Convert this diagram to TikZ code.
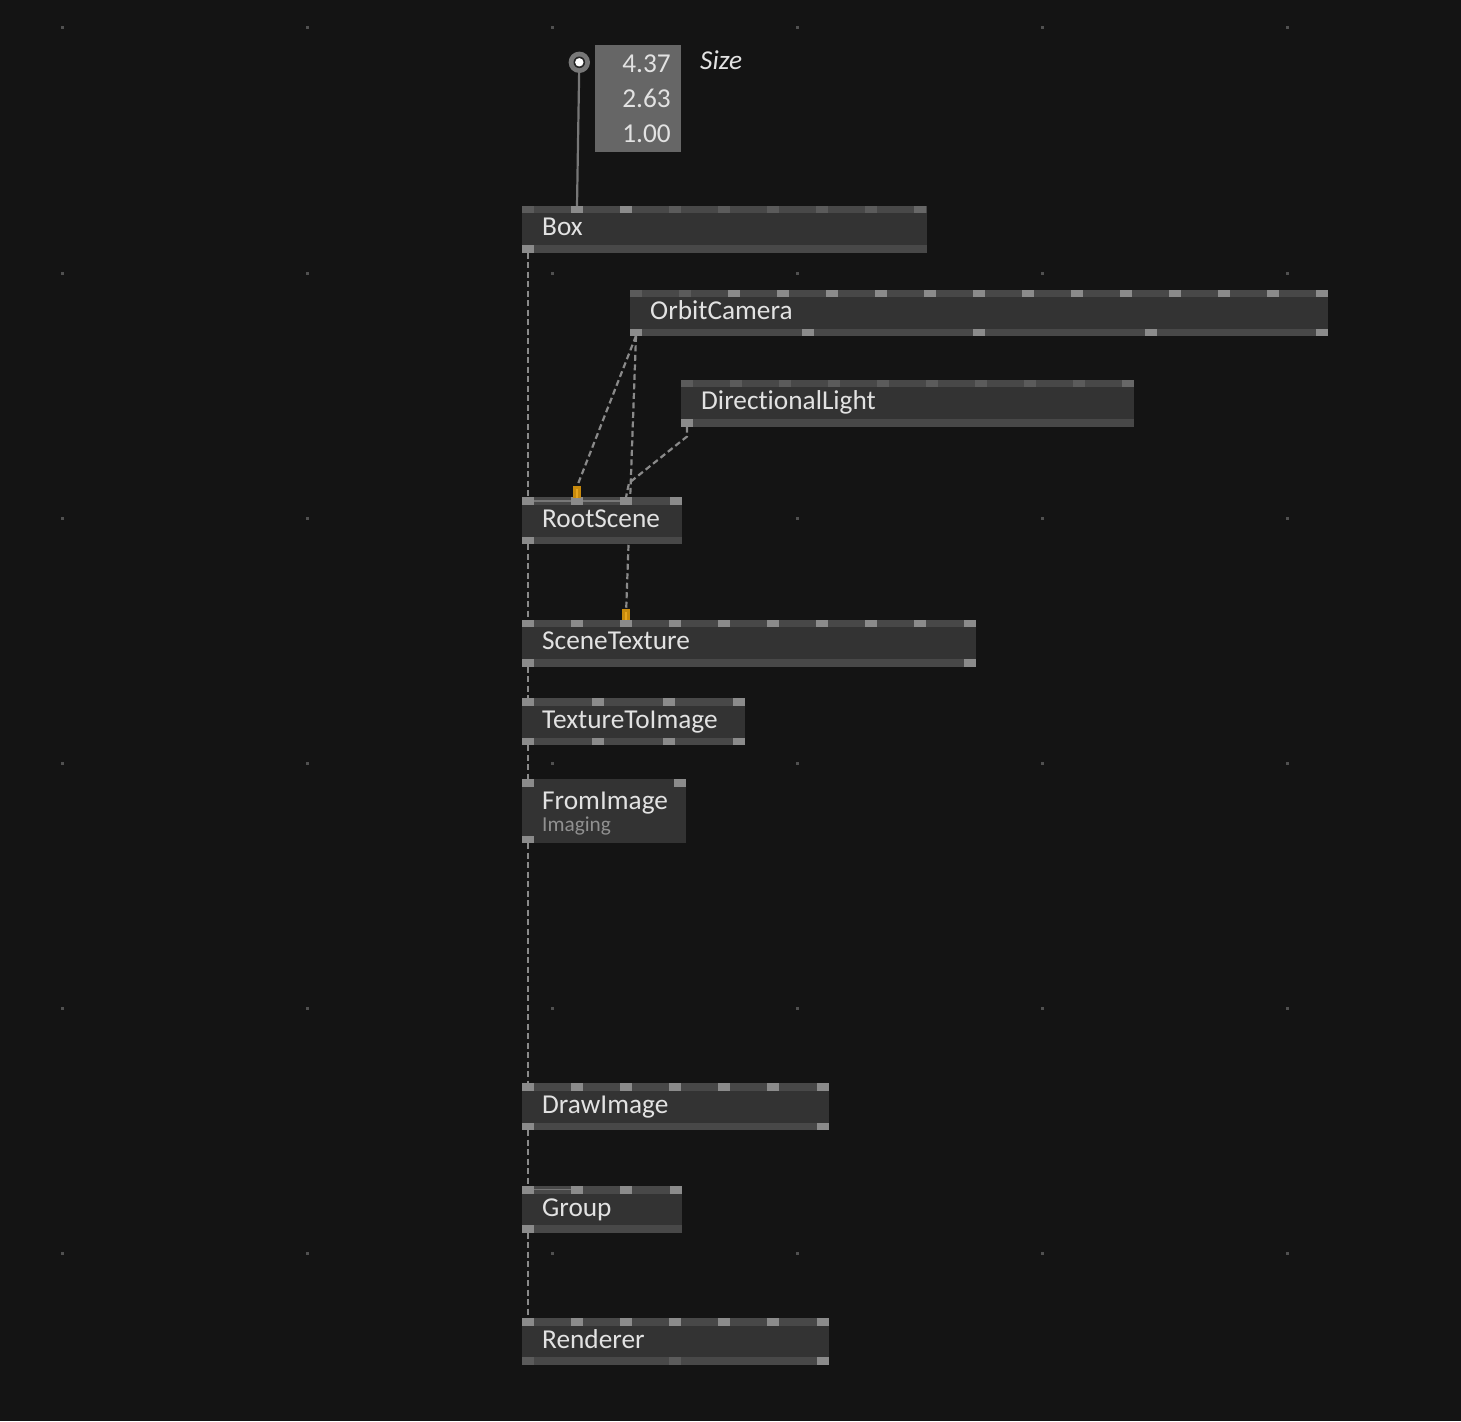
\documentclass[tikz,border=0pt]{standalone}
\usepackage{fontspec}
\setmainfont{Carlito}[Ligatures=NoCommon]
\usetikzlibrary{calc}
\definecolor{bgc}{HTML}{141414}
\definecolor{bodyc}{HTML}{333333}
\definecolor{barc}{HTML}{484848}
\definecolor{pinD}{HTML}{5B5B5B}
\definecolor{pinL}{HTML}{8B8B8B}
\definecolor{pinM}{HTML}{676767}
\definecolor{linkc}{HTML}{8A8A8A}
\definecolor{dotc}{HTML}{505050}
\definecolor{txtc}{HTML}{E2E2E2}
\definecolor{subc}{HTML}{909090}
\definecolor{valc}{HTML}{666666}
\definecolor{orgc}{HTML}{C88A0C}
\definecolor{orgl}{HTML}{E8A51C}
\definecolor{ioc}{HTML}{777777}
\pgfdeclarelayer{back}
\pgfdeclarelayer{links}
\pgfsetlayers{back,links,main}
\tikzset{
  vbody/.style={fill=bodyc, inner sep=0pt, outer sep=0pt, draw=none},
  lbl/.style={text=txtc, inner sep=0pt, font=\fontsize{27.3}{31}\selectfont},
  sublbl/.style={text=subc, inner sep=0pt, font=\fontsize{21.3}{25}\selectfont},
  numlbl/.style={text=txtc, inner sep=0pt, font=\fontsize{27.3}{31}\selectfont},
  vlink/.style={draw=linkc, line width=2.2pt, dash pattern=on 6pt off 3.5pt},
  solidlink/.style={draw=ioc, line width=2.2pt},
  grouplink/.style={draw=ioc, line width=1.6pt},
}
\newcommand\vvbox[6]{%
  \node[vbody, minimum width=#4pt, minimum height=#5pt, anchor=north west] (#1) at (#2,#3) {};
}
\newcommand\vvbars[1]{%
  \fill[barc] (#1.north west) rectangle ($(#1.north east)+(0,7.3)$);
  \fill[barc] (#1.south west) rectangle ($(#1.south east)+(0,-7.3)$);
}
\newcommand\vvlabel[2]{%
  \node[lbl, anchor=base west] (#1-t) at ($(#1.north west)+(20,29.8)$) {#2};
}
\newcommand\toppins[3]{%
  \foreach \pp in {#3} {\fill[#2] ($(#1.north west)+(\pp,0)$) rectangle ++(12,7.3);}
}
\newcommand\botpins[3]{%
  \foreach \pp in {#3} {\fill[#2] ($(#1.south west)+(\pp,-7.3)$) rectangle ++(12,7.3);}
}
\begin{document}
\begin{tikzpicture}[x=1pt,y=-1pt]
\useasboundingbox (0,0) rectangle (1461,1421);
\begin{pgfonlayer}{back}
  \fill[bgc] (0,0) rectangle (1461,1421);
  \foreach \gx in {62,307,552,797,1042,1287} {
    \foreach \gy in {28,273,518,763,1008,1253} {
      \fill[dotc] (\gx-1.5,\gy-1.5) rectangle ++(3,3);
    }
  }
\end{pgfonlayer}

% ---- IOBox with values
\node[fill=valc, minimum width=86pt, minimum height=107pt, inner sep=0pt, anchor=north west] (vals) at (595,45) {};
\node[numlbl, anchor=base east] (v1) at (671,72.8) {4.37};
\node[numlbl, anchor=base east] (v2) at (671,107.5) {2.63};
\node[numlbl, anchor=base east] (v3) at (671,142.2) {1.00};
\node[lbl, anchor=base west, font=\fontsize{27.3}{31}\selectfont\itshape] (sizelbl) at (700,69.8) {Size};
\node[circle, fill=ioc, minimum size=21.4pt, inner sep=0pt] (io) at (579.3,62.3) {};
\fill[black!85] (io.center) circle (5.8);
\fill[white] (io.center) circle (4.2);

% ---- nodes
\vvbox{box}{522}{206}{404.5}{46.5}{}
\vvbars{box}
\toppins{box}{pinD}{0,147,196,245,294,343}
\toppins{box}{pinL}{49,98}
\toppins{box}{pinM}{392}
\botpins{box}{pinL}{0}
\vvlabel{box}{Box}

\vvbox{oc}{630}{289.7}{698}{46.2}{}
\vvbars{oc}
\toppins{oc}{pinD}{0,49}
\toppins{oc}{pinL}{98,147,196,245,294,343,392,441,490,539,588,637,686}
\botpins{oc}{pinL}{0,172,343,515,686}
\vvlabel{oc}{OrbitCamera}

\vvbox{dl}{681}{380}{453}{46.5}{}
\vvbars{dl}
\toppins{dl}{pinD}{0,49,98,147,196,245,294,343,392}
\toppins{dl}{pinM}{441}
\botpins{dl}{pinL}{0}
\vvlabel{dl}{DirectionalLight}

\vvbox{rs}{522}{497.3}{159.5}{46.7}{}
\vvbars{rs}
\toppins{rs}{pinL}{0,49,98,147.5}
\botpins{rs}{pinL}{0}
\draw[grouplink] ($(rs.north west)+(12,3.6)$) -- ($(rs.north west)+(49,3.6)$);
\draw[grouplink] ($(rs.north west)+(61,3.6)$) -- ($(rs.north west)+(98,3.6)$);
\vvlabel{rs}{RootScene}

\vvbox{st}{522}{620}{453.5}{46.7}{}
\vvbars{st}
\toppins{st}{pinL}{0,49,98,147,196,245,294,343,392,441.5}
\botpins{st}{pinL}{0,441.5}
\vvlabel{st}{SceneTexture}

\vvbox{tti}{522}{698.3}{223}{46.7}{}
\vvbars{tti}
\toppins{tti}{pinL}{0,70.3,140.7,211}
\botpins{tti}{pinL}{0,70.3,140.7,211}
\vvlabel{tti}{TextureToImage}

\vvbox{fi}{522}{779.3}{164}{63.7}{}
\toppins{fi}{pinL}{0,152}
\botpins{fi}{pinL}{0}
\vvlabel{fi}{FromImage}
\node[sublbl, anchor=base west] (fi-s) at ($(fi.north west)+(20,52)$) {Imaging};

\vvbox{di}{522}{1083.3}{306.5}{46.7}{}
\vvbars{di}
\toppins{di}{pinL}{0,49,98,147,196,245,294.5}
\botpins{di}{pinL}{0,294.5}
\vvlabel{di}{DrawImage}

\vvbox{gr}{522}{1186.3}{159.5}{46.4}{}
\vvbars{gr}
\toppins{gr}{pinL}{0,49,98,147.5}
\botpins{gr}{pinL}{0}
\draw[grouplink] ($(gr.north west)+(12,3)$) -- ($(gr.north west)+(49,3)$);
\vvlabel{gr}{Group}

\vvbox{rd}{522}{1318.3}{306.5}{46.4}{}
\vvbars{rd}
\toppins{rd}{pinL}{0,49,98,147,196,245,294.5}
\botpins{rd}{pinD}{0,147}
\botpins{rd}{pinL}{294.5}
\vvlabel{rd}{Renderer}

% ---- orange (hovered) pins
\node[fill=orgc, minimum width=8pt, minimum height=11.3pt, inner sep=0pt, anchor=north west] (rsorg) at (573,486) {};
\fill[orgl] ($(rsorg.north west)+(3,3)$) rectangle ($(rsorg.south west)+(5,0)$);
\node[fill=orgc, minimum width=8pt, minimum height=11pt, inner sep=0pt, anchor=north west] (storg) at (622,609) {};
\fill[orgl] ($(storg.north west)+(3,3)$) rectangle ($(storg.south west)+(5,0)$);

% ---- links
\begin{pgfonlayer}{links}
  \draw[solidlink] (io.center) -- ($(box.north west)+(55,0)$);
  \draw[vlink] ($(box.south west)+(6,0)$) -- ($(rs.north west)+(6,0)$);
  \draw[vlink] ($(oc.south west)+(6,0)$) -- (rsorg.north);
  \draw[vlink] ($(oc.south west)+(6,0)$) -- (storg.north);
  \draw[vlink] ($(dl.south west)+(6,0)$) -- ++(0,10) -- (629,483) -- ($(rs.north west)+(104,0)$);
  \draw[vlink] ($(rs.south west)+(6,0)$) -- ($(st.north west)+(6,0)$);
  \draw[vlink] ($(st.south west)+(6,0)$) -- ($(tti.north west)+(6,0)$);
  \draw[vlink] ($(tti.south west)+(6,0)$) -- ($(fi.north west)+(6,0)$);
  \draw[vlink] ($(fi.south west)+(6,0)$) -- ($(di.north west)+(6,0)$);
  \draw[vlink] ($(di.south west)+(6,0)$) -- ($(gr.north west)+(6,0)$);
  \draw[vlink] ($(gr.south west)+(6,0)$) -- ($(rd.north west)+(6,0)$);
\end{pgfonlayer}
\end{tikzpicture}
\end{document}
